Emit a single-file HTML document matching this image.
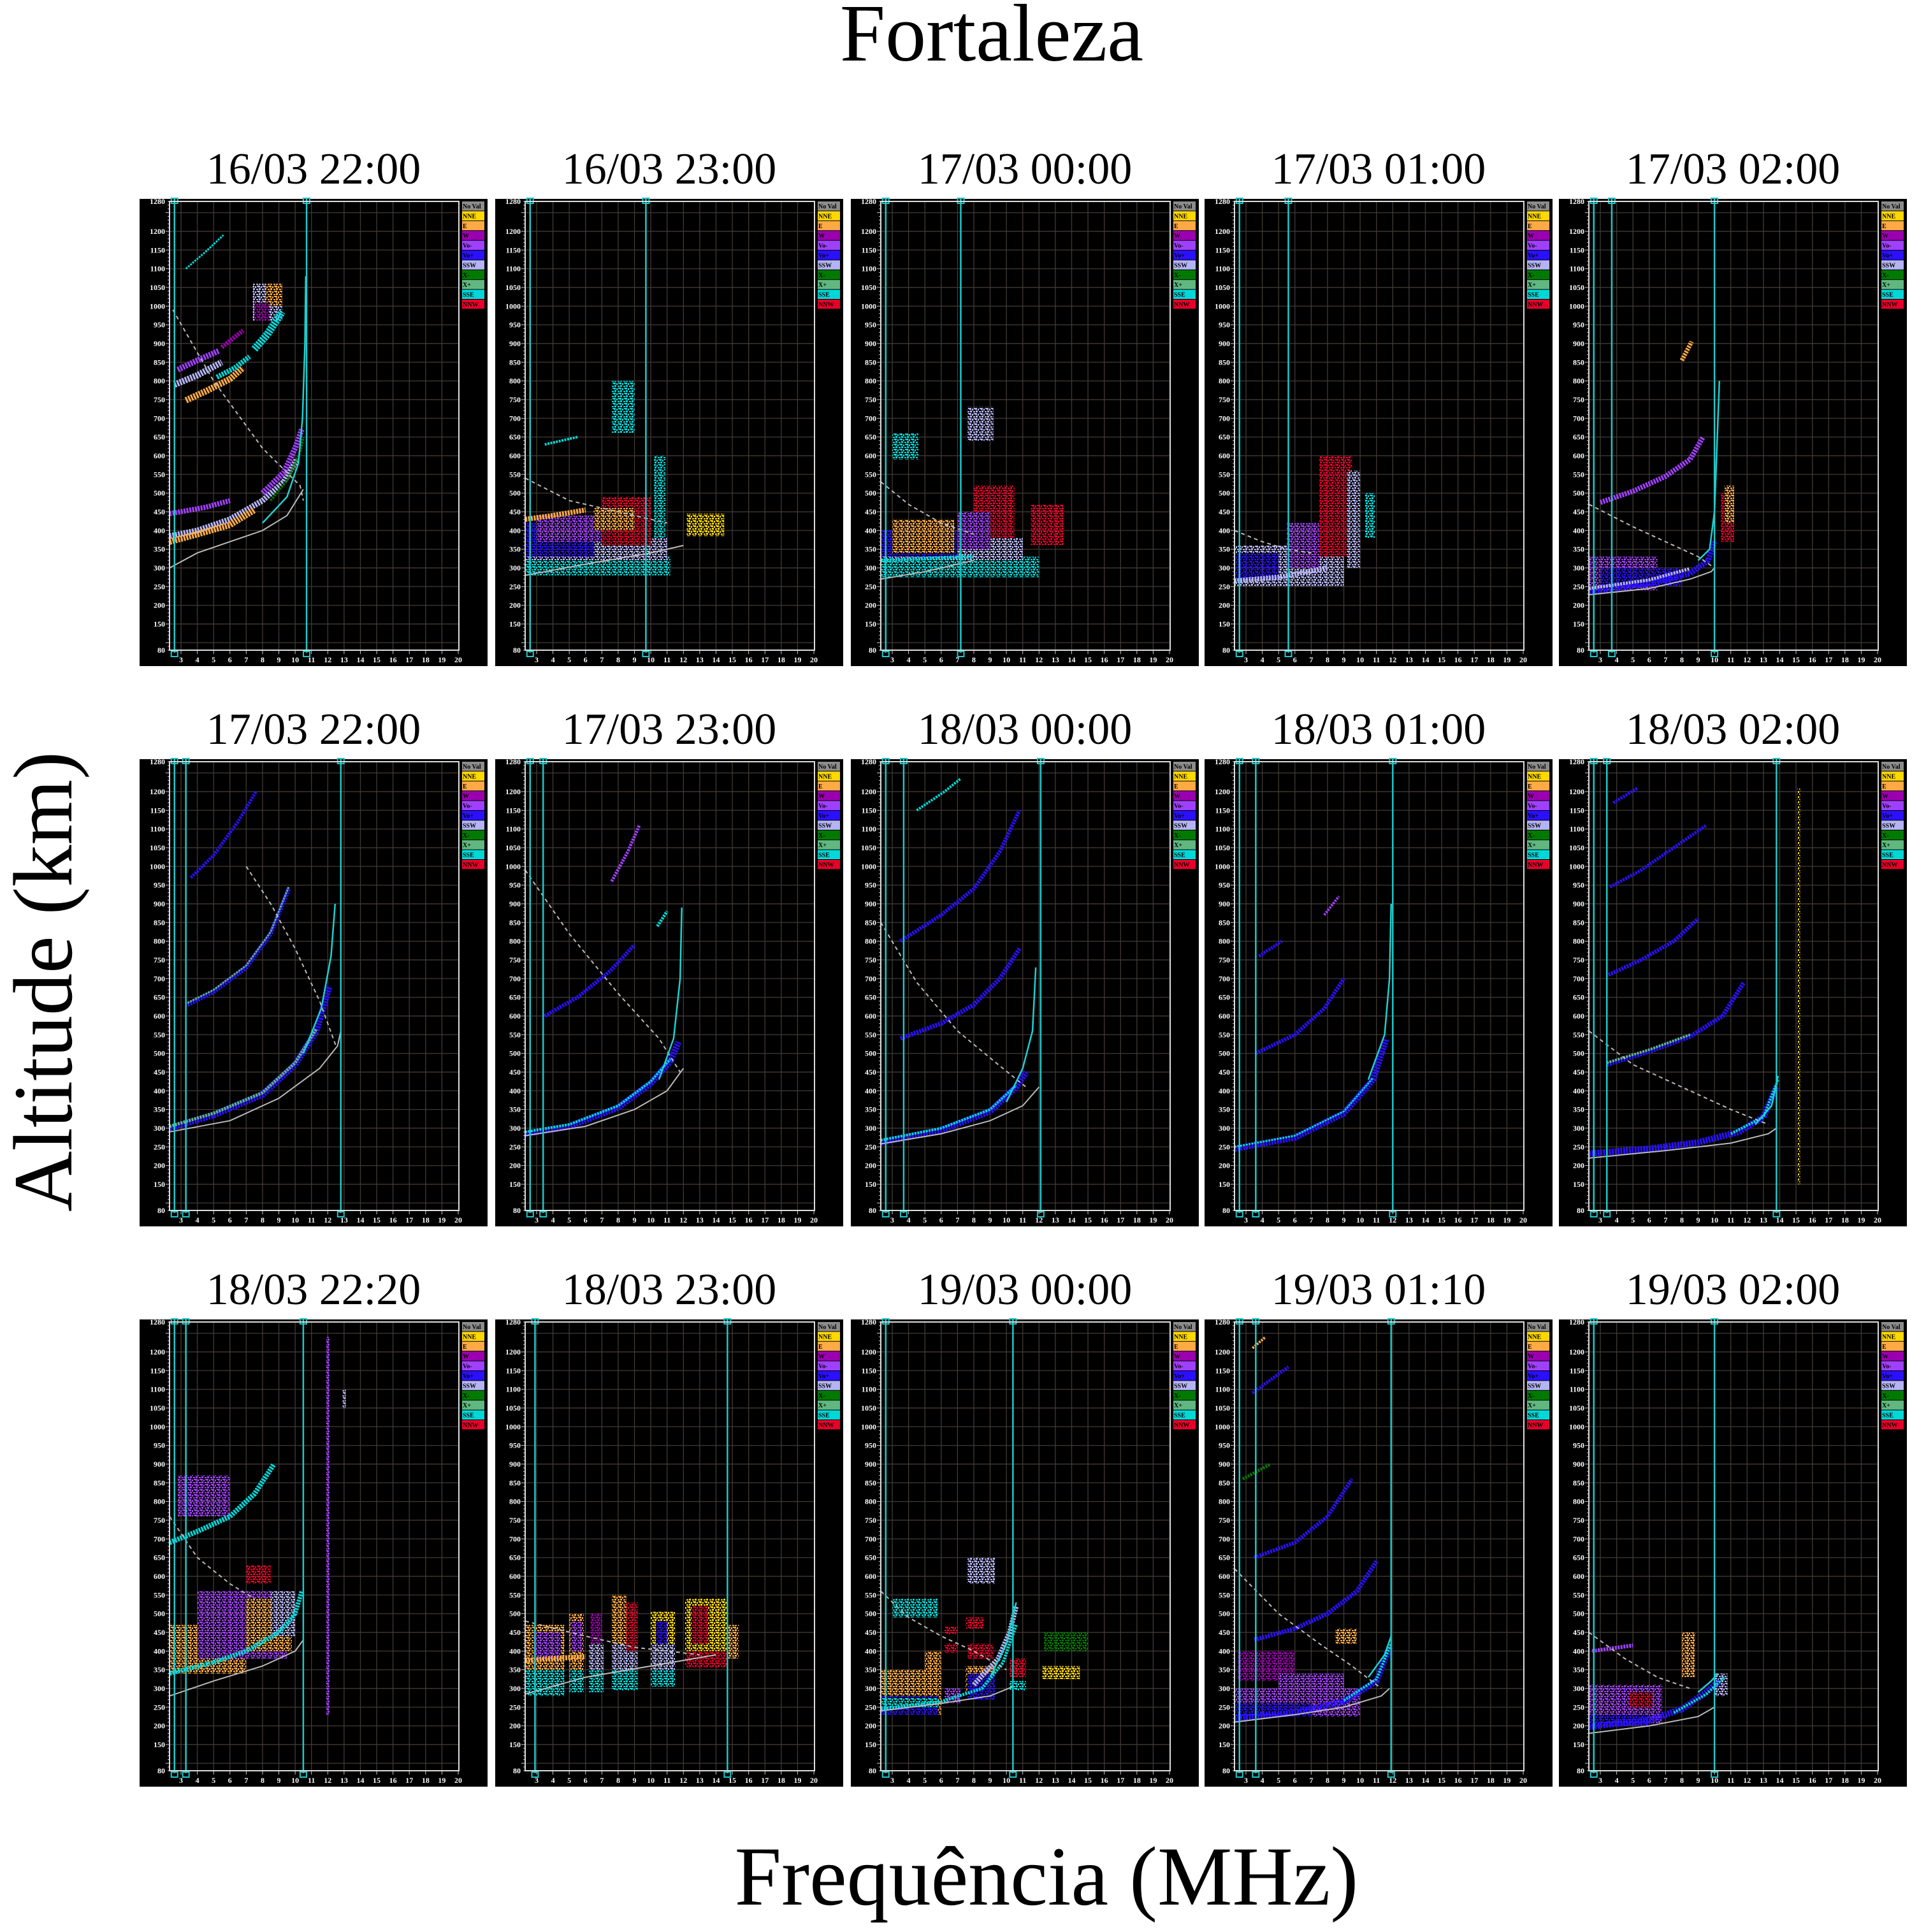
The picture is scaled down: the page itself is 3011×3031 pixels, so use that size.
<!DOCTYPE html>
<html><head><meta charset="utf-8"><style>
html,body{margin:0;padding:0;background:#fff;}
svg{display:block;}
</style></head><body>
<svg id="fig" xmlns="http://www.w3.org/2000/svg" width="3011" height="3031" viewBox="0 0 3011 3031">
<defs id="defs"></defs>
<rect x="0" y="0" width="3011" height="3031" fill="#fff"/>
<text x="1556" y="95" font-family="Liberation Serif, serif" font-size="128" text-anchor="middle" fill="#000">Fortaleza</text>
<text transform="translate(112,1540) rotate(-90)" font-family="Liberation Serif, serif" font-size="132" text-anchor="middle" fill="#000">Altitude (km)</text>
<text x="1642" y="2988" font-family="Liberation Serif, serif" font-size="132" text-anchor="middle" fill="#000">Frequência (MHz)</text>
<g id="panels"></g>
</svg>
<script>
// ---------- data ----------
const titles = ["16/03 22:00","16/03 23:00","17/03 00:00","17/03 01:00","17/03 02:00",
"17/03 22:00","17/03 23:00","18/03 00:00","18/03 01:00","18/03 02:00",
"18/03 22:20","18/03 23:00","19/03 00:00","19/03 01:10","19/03 02:00"];
const cyanFreqs = [[2.6,10.7],[2.6,9.7],[2.6,7.2],[2.6,5.6],[2.6,3.7,10.0],
[2.6,3.3,12.8],[2.6,3.4],[2.6,3.7,12.1],[2.6,3.6,12.0],[2.6,3.4,13.8],
[2.6,3.3,10.5],[2.9,14.7],[2.6,10.4],[2.6,3.6,11.9],[2.6,10.0]];
const xTicks = [3,4,5,6,7,8,9,10,11,12,13,14,15,16,17,18,19,20];
const yTicks = [80,150,200,250,300,350,400,450,500,550,600,650,700,750,800,850,900,950,1000,1050,1100,1150,1200,1280];
const legendNames = ["No Val","NNE","E","W","Vo-","Vo+","SSW","X-","X+","SSE","NNW"];
const legendColors = ["#8c8c8c","#ffd800","#ffaa44","#9a00b0","#a040ff","#2a10ff","#b4b4f4","#007a00","#60b880","#00d8d8","#e8002a"];
const COL = {N:"#8c8c8c",Y:"#ffd800",E:"#ffaa44",W:"#9a00b0",M:"#a040ff",B:"#2a10ff",S:"#b4b4f4",G:"#007a00",L:"#60b880",C:"#00d8d8",R:"#e8002a",X:"#dddddd"};

const traces = [
 [ {c:"S",w:9,f:[2.3,4,6,8,9.3,10.1],h:[385,400,430,480,530,590]},
   {c:"E",w:10,f:[2.3,4,6,7.5],h:[370,390,415,455]},
   {c:"M",w:8,f:[2.3,4.5,6],h:[445,462,480]},
   {c:"M",w:9,f:[8,9.3,10,10.4],h:[500,555,620,670]},
   {c:"G",w:4,f:[8.5,9.6,10.3,10.5],h:[480,540,610,650]},
   {c:"E",w:10,f:[3.3,4.5,6,6.8],h:[748,772,805,835]},
   {c:"C",w:8,f:[5.2,6.3,7.2],h:[810,835,865]},
   {c:"C",w:12,f:[7.5,8.3,9.2],h:[885,925,985]},
   {c:"M",w:9,f:[2.8,4,5.3],h:[830,855,880]},
   {c:"W",w:7,f:[5.5,6.8],h:[890,935]},
   {c:"S",w:10,f:[2.6,4,5.5],h:[790,815,850]},
   {c:"C",w:3,f:[3.3,4.5,5.6],h:[1100,1145,1190]}],
 [ {c:"E",w:8,f:[2.3,4,6],h:[430,440,455]},
   {c:"C",w:4,f:[3.5,5.5],h:[630,650]} ],
 [ {c:"C",w:6,f:[2.3,5,8],h:[320,325,330]} ],
 [ {c:"S",w:8,f:[2.3,5,8],h:[265,275,300]} ],
 [ {c:"B",w:9,f:[2.3,6,8.5,9.6,10],h:[235,258,285,320,370]},
   {c:"S",w:5,f:[2.3,6,8.5],h:[245,268,298]},
   {c:"M",w:8,f:[3,5,7,8.5,9.3],h:[475,505,545,590,650]},
   {c:"E",w:7,f:[8,8.6],h:[855,905]} ],
 [ {c:"B",w:10,f:[2.3,5,8,10,11.3,12.1],h:[300,335,390,470,560,680]},
   {c:"L",w:5,f:[2.3,5,8,10,11.3],h:[305,340,395,475,565]},
   {c:"B",w:7,f:[3.4,5,7,8.5,9.6],h:[630,665,730,820,940]},
   {c:"L",w:3,f:[3.4,5,7,8.5,9.6],h:[635,670,735,825,945]},
   {c:"B",w:5,f:[3.6,5,6.5,7.6],h:[970,1030,1120,1200]} ],
 [ {c:"B",w:10,f:[2.3,5,8,10,11.2,11.7],h:[285,305,355,420,480,530]},
   {c:"C",w:4,f:[2.3,5,8,10,11.2],h:[290,310,360,425,485]},
   {c:"B",w:6,f:[3.5,5.5,7.5,9],h:[600,650,720,790]},
   {c:"C",w:5,f:[10.4,11],h:[840,880]},
   {c:"M",w:5,f:[7.6,8.6,9.3],h:[960,1040,1110]} ],
 [ {c:"B",w:10,f:[2.3,6,9,10.6,11.2],h:[262,295,345,410,450]},
   {c:"C",w:4,f:[2.3,6,9,10.6],h:[268,300,350,415]},
   {c:"B",w:7,f:[3.5,6,8,9.6,10.8],h:[540,580,630,700,780]},
   {c:"B",w:6,f:[3.5,6,8,9.6,10.8],h:[800,870,940,1040,1150]},
   {c:"C",w:4,f:[4.5,6.2,7.2],h:[1150,1200,1235]} ],
 [ {c:"B",w:10,f:[2.3,6,9,10.8,11.6],h:[245,275,340,430,540]},
   {c:"C",w:3,f:[2.3,6,9,10.8],h:[250,280,345,435]},
   {c:"B",w:6,f:[3.6,6,7.8,9],h:[500,550,620,700]},
   {c:"B",w:5,f:[3.8,5.2],h:[760,800]},
   {c:"M",w:4,f:[7.8,8.7],h:[870,920]} ],
 [ {c:"B",w:10,f:[2.3,6,9,11.5,13,13.8],h:[232,245,262,290,330,410]},
   {c:"C",w:4,f:[11,13,13.9],h:[285,330,430]},
   {c:"B",w:7,f:[3.4,6,8.5,10.5,11.8],h:[470,505,545,600,690]},
   {c:"L",w:4,f:[3.4,6,8.5],h:[475,510,550]},
   {c:"B",w:6,f:[3.5,5.5,7.5,9],h:[710,750,800,860]},
   {c:"B",w:5,f:[3.6,5.5,7.5,9.5],h:[945,990,1050,1110]},
   {c:"B",w:5,f:[3.8,5.3],h:[1170,1210]} ],
 [ {c:"C",w:7,f:[2.3,5,7,9,10,10.4],h:[340,370,400,450,500,560]},
   {c:"C",w:8,f:[2.3,4,6,7.5,8.7],h:[690,720,760,820,900]} ],
 [ {c:"E",w:8,f:[2.3,4,6],h:[375,380,385]} ],
 [ {c:"S",w:8,f:[8,9.5,10.2,10.6],h:[310,380,450,520]},
   {c:"C",w:5,f:[2.3,6,8.5,9.8,10.6],h:[245,265,300,370,470]} ],
 [ {c:"B",w:10,f:[2.3,6,9,11,11.8],h:[220,235,265,320,410]},
   {c:"C",w:4,f:[9,11,11.9],h:[268,325,420]},
   {c:"B",w:7,f:[3.5,6,8,9.8,11],h:[430,460,500,560,640]},
   {c:"B",w:6,f:[3.5,6,8,9.5],h:[650,690,760,860]},
   {c:"G",w:5,f:[2.8,4.5],h:[860,900]},
   {c:"B",w:5,f:[3.4,5.6],h:[1090,1160]},
   {c:"E",w:4,f:[3.4,4.2],h:[1210,1240]} ],
 [ {c:"B",w:10,f:[2.3,6,8,9.5,10.3],h:[198,215,245,290,320]},
   {c:"C",w:4,f:[7.5,9.5,10.6],h:[235,285,330]},
   {c:"M",w:6,f:[2.5,5],h:[400,415]} ]
];
const blobs = [
 [ {c:"S",f:[7.4,9.2],h:[960,1060]},{c:"E",f:[8.2,9.2],h:[1000,1060]},{c:"W",f:[7.5,8.4],h:[960,1010]} ],
 [ {c:"C",f:[2.3,11.2],h:[280,330]},{c:"S",f:[2.3,11],h:[320,380]},{c:"B",f:[2.3,6.5],h:[330,420]},
   {c:"M",f:[3,7],h:[370,440]},{c:"R",f:[7,10],h:[360,490]},{c:"E",f:[6.5,9],h:[400,460]},
   {c:"Y",f:[12.2,14.5],h:[385,445]},{c:"C",f:[10.2,10.9],h:[380,600]},{c:"C",f:[7.6,9],h:[660,800]} ],
 [ {c:"C",f:[2.3,12],h:[275,330]},{c:"S",f:[2.3,11],h:[320,380]},{c:"B",f:[2.3,7],h:[330,400]},
   {c:"E",f:[3,6.8],h:[340,430]},{c:"R",f:[8,10.5],h:[380,520]},{c:"M",f:[7,9],h:[350,450]},
   {c:"R",f:[11.5,13.5],h:[360,470]},{c:"C",f:[3,4.6],h:[590,660]},{c:"S",f:[7.6,9.2],h:[640,730]} ],
 [ {c:"S",f:[2.3,9],h:[250,360]},{c:"B",f:[2.3,5],h:[270,340]},{c:"M",f:[5.5,7.5],h:[300,420]},
   {c:"R",f:[7.5,9.5],h:[330,600]},{c:"S",f:[9.2,10],h:[300,560]},{c:"C",f:[10.3,10.9],h:[380,500]} ],
 [ {c:"M",f:[2.3,6.5],h:[240,330]},{c:"B",f:[3,8],h:[250,300]},{c:"R",f:[10.4,11.2],h:[370,500]},
   {c:"E",f:[10.6,11.2],h:[420,520]} ],
 [],[],[],[],[ {c:"Y",f:[15.1,15.25],h:[150,1210]} ],
 [ {c:"E",f:[2.3,7],h:[340,470]},{c:"M",f:[4,9.5],h:[380,560]},{c:"E",f:[7,9.8],h:[400,540]},
   {c:"S",f:[8.5,10],h:[440,560]},{c:"R",f:[7,8.5],h:[580,630]},{c:"M",f:[2.8,6],h:[760,870]},
   {c:"M",f:[11.9,12.1],h:[230,1240]},{c:"S",f:[12.9,13.1],h:[1050,1100]} ],
 [ {c:"C",f:[2.3,4.7],h:[280,350]},{c:"E",f:[2.3,4.7],h:[350,470]},{c:"M",f:[2.8,4.5],h:[380,450]},
   {c:"C",f:[5,5.9],h:[290,350]},{c:"E",f:[5,5.9],h:[350,500]},{c:"M",f:[5.1,5.8],h:[400,480]},
   {c:"C",f:[6.2,7.1],h:[290,350]},{c:"S",f:[6.2,7.1],h:[350,420]},{c:"W",f:[6.3,7],h:[420,500]},
   {c:"C",f:[7.6,9.2],h:[295,350]},{c:"S",f:[7.6,9.2],h:[350,420]},{c:"E",f:[7.6,8.5],h:[420,550]},{c:"R",f:[8.5,9.2],h:[400,530]},
   {c:"C",f:[10,11.5],h:[305,350]},{c:"S",f:[10,11.5],h:[350,420]},{c:"Y",f:[10,11.5],h:[420,505]},{c:"B",f:[10.3,11],h:[420,480]},
   {c:"R",f:[12.1,14.7],h:[355,400]},{c:"Y",f:[12.1,14.7],h:[400,540]},{c:"R",f:[12.5,13.5],h:[420,520]},{c:"E",f:[14.7,15.4],h:[380,470]} ],
 [ {c:"E",f:[2.3,6],h:[230,350]},{c:"B",f:[2.3,5.8],h:[230,280]},{c:"C",f:[2.3,5.8],h:[250,275]},
   {c:"E",f:[5,6],h:[290,400]},{c:"M",f:[6.2,7.2],h:[260,300]},{c:"E",f:[7.5,9.3],h:[290,360]},
   {c:"B",f:[7.6,9.3],h:[270,340]},{c:"R",f:[7.6,9.2],h:[380,420]},{c:"R",f:[6.2,7],h:[395,420]},
   {c:"R",f:[6.2,7],h:[445,465]},{c:"R",f:[7.5,8.6],h:[460,490]},{c:"C",f:[3,5.8],h:[490,540]},
   {c:"S",f:[7.6,9.3],h:[580,650]},{c:"C",f:[10.2,11.2],h:[295,320]},{c:"R",f:[10.2,11.2],h:[330,380]},
   {c:"G",f:[12.3,15],h:[400,450]},{c:"Y",f:[12.2,14.5],h:[325,360]} ],
 [ {c:"M",f:[2.3,10],h:[225,300]},{c:"W",f:[2.5,6],h:[320,400]},{c:"B",f:[2.3,7],h:[225,260]},
   {c:"E",f:[8.5,9.8],h:[420,460]},{c:"M",f:[5,9],h:[260,340]} ],
 [ {c:"M",f:[2.3,6.8],h:[205,310]},{c:"B",f:[2.3,6],h:[200,230]},{c:"E",f:[8,8.8],h:[330,450]},
   {c:"S",f:[10,10.8],h:[280,340]},{c:"R",f:[4.8,6.2],h:[250,290]} ]
];
const dashF = [[2.5,5,8,10.3,10.5],[2.3,5,8,11],[2.3,4,6,8],[2.3,4,5.5,7],[2.3,5,7,9,10],
[7,8.5,10,11.5,12.5],[2.3,5,8,10.5,11.8],[2.3,4.5,7,9.5,11.2],[],[2.3,5,8,11,13.3],
[2.3,4,6,7.5],[2.3,6,9,11,13],[2.3,4,6,8,10],[2.3,5,7.5,9.5,11.3],[2.3,4.5,6.5,8.5]];
const dashH = [[990,800,620,520,480],[540,480,450,420],[530,470,420,390],[400,370,350,340],[470,410,370,330,300],
[1000,900,780,640,520],[990,820,660,540,450],[850,690,560,470,410],[],[560,470,410,350,310],
[760,650,580,540],[480,440,410,400,390],[560,490,440,400,350],[620,500,420,360,300],[450,380,330,300]];
const greyF = [[2.3,4,6,8,9.5,10.5],[2.3,6,10,12],[2.3,5,8],[],[2.3,6,8.5,9.8,10],
[2.3,6,9,11.5,12.6,12.8],[2.3,6,9,11,12],[2.3,6,9,11,12],[],[2.3,7,11,13.3,13.8],
[2.3,5,8,10,10.5],[2.3,6,10,14],[2.3,6,9,10.4],[2.3,6,9,11.3,11.8],[2.3,6,9,10]];
const greyH = [[300,340,370,400,440,510],[280,310,340,360],[270,290,320],[],[228,245,270,290,300],
[290,320,380,460,520,560],[280,305,350,400,460],[258,285,320,360,410],[],[220,240,260,285,300],
[280,320,360,400,430],[285,330,360,390],[240,260,280,305],[210,230,250,280,300],[180,200,225,250]];
const modelF = [[8,9.5,10.2,10.45,10.6,10.65],[],[],[],[9,9.7,10,10.3],
[10.5,11.6,12.2,12.45],[10.5,11.4,11.8,11.9],[10,11,11.6,11.8],[10.5,11.5,11.8,11.9],[12.5,13.5,13.9],
[],[],[9,10,10.6],[10.5,11.5,11.9],[9,9.8,10.2]];
const modelH = [[420,490,580,700,900,1080],[],[],[],[320,350,450,800],
[500,620,760,900],[430,540,700,890],[370,460,560,730],[430,550,700,900],[310,360,440],
[],[],[330,420,530],[330,390,440],[290,320,340]];

// ---------- layout ----------
const colLeft=[219,777,1335,1890,2446], rowTop=[312,1191,2070];
const BW=546, BH=733, PL=47, PR=501, PT=4, PB=708;
const NS="http://www.w3.org/2000/svg";
function mk(tag,attrs,parent){const e=document.createElementNS(NS,tag);for(const k in attrs)e.setAttribute(k,attrs[k]);parent.appendChild(e);return e;}
const root=document.getElementById("panels");
const defs=document.getElementById("defs");
// speckle patterns per colour
Object.keys(COL).forEach(k=>{
  const p=mk("pattern",{id:"sp"+k,width:"9",height:"8",patternUnits:"userSpaceOnUse"},defs);
  mk("rect",{x:0,y:0,width:3,height:3,fill:COL[k]},p);
  mk("rect",{x:4,y:1,width:2,height:3,fill:COL[k]},p);
  mk("rect",{x:1,y:4,width:3,height:3,fill:COL[k]},p);
  mk("rect",{x:6,y:5,width:3,height:2,fill:COL[k]},p);
  mk("rect",{x:7,y:0,width:2,height:2,fill:COL[k]},p);
});

titles.forEach((t,i)=>{
  const bx=colLeft[i%5], by=rowTop[Math.floor(i/5)];
  const x0=bx+PL, x1=bx+PR, y0=by+PT, y1=by+PB;
  const fx=f=>bx+65+(f-3)*(435/17);
  const hy=h=>y0+(1280-h)*((y1-y0)/1200);
  const g=mk("g",{},root);
  
  
  const tt=mk("text",{x:bx+BW/2,y:by-24,"font-family":"Liberation Serif, serif","font-size":"70","text-anchor":"middle",fill:"#000"},g);
  tt.textContent=t;
  
  
  const bg=mk("rect",{x:bx,y:by,width:BW,height:BH,fill:"#000"},g);
  
  
  const grid=mk("g",{stroke:"#433a34","stroke-width":"1.3"},g);
  
  
  for(let f=3;f<=19;f++) mk("line",{x1:fx(f),x2:fx(f),y1:y0,y2:y1},grid);
  for(let h=100;h<=1250;h+=50) mk("line",{x1:x0,x2:x1,y1:hy(h),y2:hy(h)},grid);
  const tk=mk("g",{stroke:"#ccc","stroke-width":"1"},g);
  for(let h=80;h<=1280;h+=10){const w=(h%50===0)?6:3;mk("line",{x1:x0-w,x2:x0,y1:hy(h),y2:hy(h)},tk);}
  xTicks.forEach(f=>mk("line",{x1:fx(f),x2:fx(f),y1:y1,y2:y1+6},tk));
  const lab=mk("g",{"font-family":"Liberation Serif, serif","font-size":"12","font-weight":"bold",fill:"#fff"},g);
  yTicks.forEach(h=>{const e=mk("text",{x:x0-7,y:hy(h)+4,"text-anchor":"end"},lab);e.textContent=h;
    
    });
  xTicks.forEach(f=>{const e=mk("text",{x:fx(f),y:y1+19,"text-anchor":"middle"},lab);e.textContent=f;
    
    });
  blobs[i].forEach(b=>{const r=mk("rect",{x:fx(b.f[0]),y:hy(b.h[1]),width:fx(b.f[1])-fx(b.f[0]),height:hy(b.h[0])-hy(b.h[1]),fill:"url(#sp"+b.c+")"},g);
    
    });
  traces[i].forEach(tr=>{const pts=tr.f.map((f,k)=>fx(f)+","+hy(tr.h[k])).join(" ");
    const p=mk("polyline",{points:pts,fill:"none",stroke:COL[tr.c],"stroke-width":tr.w,"stroke-linejoin":"round","stroke-dasharray":"3 1.5"},g);
    
    });
  if(dashF[i].length){const p=mk("polyline",{points:dashF[i].map((f,k)=>fx(f)+","+hy(dashH[i][k])).join(" "),fill:"none",stroke:"#bbb","stroke-width":"2","stroke-dasharray":"6 5"},g);
    
    }
  if(greyF[i].length){const p=mk("polyline",{points:greyF[i].map((f,k)=>fx(f)+","+hy(greyH[i][k])).join(" "),fill:"none",stroke:"#bbb","stroke-width":"2"},g);
    
    }
  if(modelF[i].length){const p=mk("polyline",{points:modelF[i].map((f,k)=>fx(f)+","+hy(modelH[i][k])).join(" "),fill:"none",stroke:"#1fd0d0","stroke-width":"2.5"},g);
    
    }
  cyanFreqs[i].forEach(f=>{const l=mk("line",{x1:fx(f),x2:fx(f),y1:y0-4,y2:y1+4,stroke:"#1fc8c8","stroke-width":"2.5"},g);
    
    
    mk("rect",{x:fx(f)-5,y:y0-5,width:10,height:8,fill:"none",stroke:"#1fc8c8","stroke-width":"2"},g);
    mk("rect",{x:fx(f)-5,y:y1+2,width:10,height:8,fill:"none",stroke:"#1fc8c8","stroke-width":"2"},g);});
  const fr=mk("rect",{x:x0,y:y0,width:x1-x0,height:y1-y0,fill:"none",stroke:"#ddd","stroke-width":"2"},g);
  
  
  const lg=mk("g",{},g);
  
  
  legendNames.forEach((n,k)=>{const yy=y0+k*15.4;
    const r=mk("rect",{x:bx+506,y:yy,width:35,height:14.4,fill:legendColors[k]},lg);
    
    
    const tx=mk("text",{x:bx+507,y:yy+11,"font-family":"Liberation Serif, serif","font-size":"10","font-weight":"bold",fill:"#000"},lg);
    tx.textContent=n;});
});
</script>
</body></html>
